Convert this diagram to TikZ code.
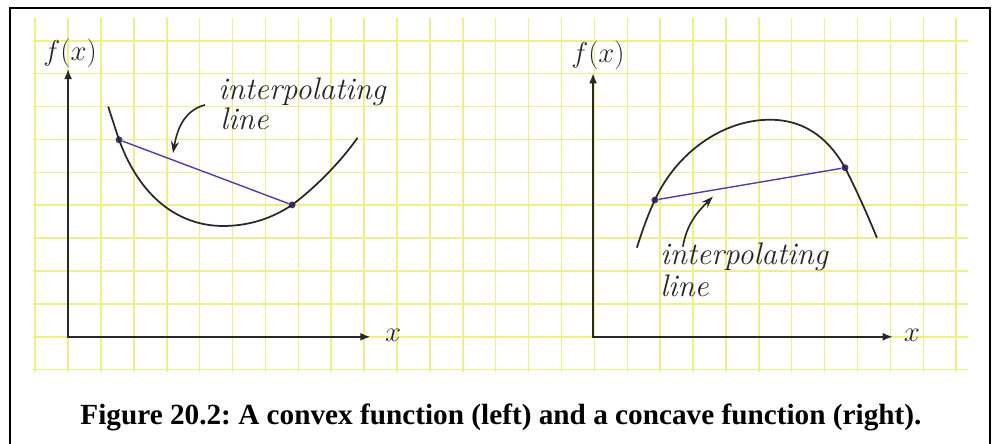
\documentclass[tikz,border=0pt]{standalone}
\usepackage{fontspec}
\newfontfamily\capfont{Liberation Serif}
\usetikzlibrary{arrows.meta}
\frenchspacing

\definecolor{gridyellow}{RGB}{238,238,140}
\definecolor{inkgray}{RGB}{40,40,40}
\definecolor{interpurple}{RGB}{85,55,175}
\definecolor{dotpurple}{RGB}{70,50,120}

\tikzset{
  axis/.style={line width=2pt, inkgray, {Latex[length=9pt,width=7pt]}-{Latex[length=9pt,width=7pt]}},
  curve/.style={line width=1.5pt, inkgray},
  interp/.style={line width=1.2pt, interpurple},
  pt/.style={circle, fill=dotpurple, inner sep=0pt, minimum size=6pt},
  hand/.style={font=\fontsize{27}{28}\selectfont\itshape, text=inkgray, inner sep=0pt},
  axlabel/.style={font=\fontsize{26}{28}\selectfont, text=inkgray, inner sep=0pt},
  pointer/.style={line width=1.4pt, inkgray, -{Stealth[length=10pt,width=7pt]}},
}

\begin{document}
\begin{tikzpicture}
	\useasboundingbox (-2.07,-3.25) rectangle (28.18,10.24);
	% grid paper and frame
	\draw[gridyellow, line width=1.3pt] (-1.06,-1.06) grid (27.36,9.7);
	\draw[line width=1.6pt] (-1.76,-3.3) -- (-1.76,10.0) -- (28.02,10.0) -- (28.02,-3.3);
	\node[font=\capfont\bfseries\fontsize{25.3}{28}\selectfont, anchor=base] (caption) at (13.16,-2.67)
		{Figure 20.2: A convex function (left) and a concave function (right).};

	% convex function (left)
	\coordinate (O1) at (0,0);
	\coordinate (Y1) at (0,8.15);
	\coordinate (X1) at (9.2,0);
	\draw[axis] (Y1) -- (O1) -- (X1);
	\node[axlabel] (fx1) at (0.06,8.63) {$f(x)$};
	\node[axlabel, font=\fontsize{30}{30}\selectfont] (xl1) at (9.88,0.05) {$x$};
	\node[pt] (A1) at (1.55,5.99) {};
	\node[pt] (B1) at (6.81,4.01) {};
	\draw[curve] (1.22,7.0) .. controls (1.33,6.65) and (1.44,6.32) .. (A1.center)
		.. controls (2.2,4.2) and (3.4,3.37) .. (4.71,3.37)
		.. controls (5.5,3.37) and (6.2,3.6) .. (B1.center)
		.. controls (7.4,4.45) and (8.2,5.2) .. (8.8,6.05);
	\draw[interp] (A1) -- (B1);
	\node[hand, anchor=base west] (lbl1) at (4.56,7.2) {interpolating};
	\node[hand, anchor=base west] (lbl1b) at (4.62,6.29) {line};
	\coordinate (p1s) at (4.16,7.05);
	\coordinate (p1t) at (3.19,5.59);
	\draw[pointer] (p1s) to[out=195, in=80] (p1t);

	% concave function (right)
	\coordinate (O2) at (15.96,0);
	\coordinate (Y2) at (15.96,8.02);
	\coordinate (X2) at (25.08,0);
	\draw[axis] (Y2) -- (O2) -- (X2);
	\node[axlabel] (fx2) at (16.11,8.57) {$f(x)$};
	\node[axlabel, font=\fontsize{30}{30}\selectfont] (xl2) at (25.65,0.05) {$x$};
	\node[pt] (C2) at (17.84,4.16) {};
	\node[pt] (D2) at (23.62,5.14) {};
	\draw[curve] (17.29,2.71) .. controls (17.45,3.2) and (17.62,3.7) .. (C2.center)
		.. controls (18.5,5.6) and (19.9,6.6) .. (21.34,6.6)
		.. controls (22.5,6.6) and (23.2,5.9) .. (D2.center)
		.. controls (24.0,4.4) and (24.35,3.6) .. (24.59,3.01);
	\draw[interp] (C2) -- (D2);
	\node[hand, anchor=base west] (lbl2) at (18.0,2.19) {interpolating};
	\node[hand, anchor=base west] (lbl2b) at (18.0,1.22) {line};
	\coordinate (p2s) at (18.69,2.74);
	\coordinate (p2t) at (19.6,4.26);
	\draw[pointer] (p2s) to[out=80, in=225] (p2t);
\end{tikzpicture}
\end{document}
